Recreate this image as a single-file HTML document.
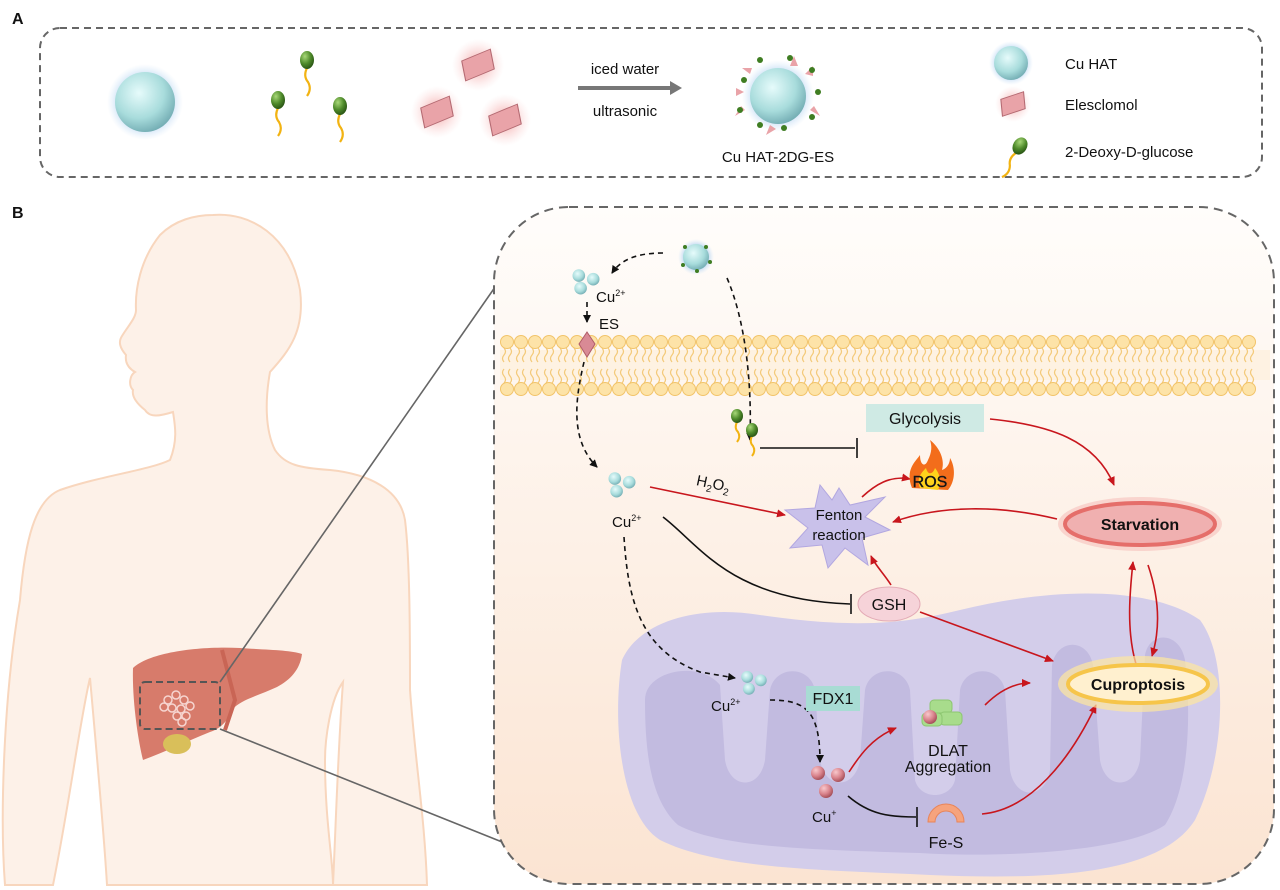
<!DOCTYPE html>
<html><head><meta charset="utf-8">
<style>
html,body{margin:0;padding:0;background:#fff;width:1280px;height:890px;overflow:hidden}
svg{display:block}
text{font-family:"Liberation Sans",Arial,sans-serif;fill:#111}
</style></head><body>
<svg width="1280" height="890" viewBox="0 0 1280 890" xmlns="http://www.w3.org/2000/svg">
<defs>
<radialGradient id="sph" cx="0.4" cy="0.35" r="0.7"><stop offset="0" stop-color="#e6fbfb"/><stop offset="0.6" stop-color="#a8dcdc"/><stop offset="1" stop-color="#6fa9b0"/></radialGradient>
<radialGradient id="glowB" cx="0.5" cy="0.5" r="0.5"><stop offset="0.6" stop-color="#a9cdf0" stop-opacity="0.9"/><stop offset="1" stop-color="#cfe3f7" stop-opacity="0"/></radialGradient>
<radialGradient id="grn" cx="0.35" cy="0.3" r="0.7"><stop offset="0" stop-color="#a8d878"/><stop offset="0.6" stop-color="#4e8a2a"/><stop offset="1" stop-color="#2d5a17"/></radialGradient>
<radialGradient id="pnk" cx="0.35" cy="0.3" r="0.7"><stop offset="0" stop-color="#f8c8cc"/><stop offset="0.6" stop-color="#d9838c"/><stop offset="1" stop-color="#a8525c"/></radialGradient>
<radialGradient id="pglow" cx="0.5" cy="0.5" r="0.5"><stop offset="0.3" stop-color="#f6b8b8" stop-opacity="0.8"/><stop offset="1" stop-color="#fbdada" stop-opacity="0"/></radialGradient>
<linearGradient id="cellbg" x1="0" y1="0" x2="0" y2="1"><stop offset="0" stop-color="#fffdfb"/><stop offset="1" stop-color="#fbe4d2"/></linearGradient>
<marker id="ab" markerWidth="8" markerHeight="8" refX="7" refY="4" orient="auto" markerUnits="userSpaceOnUse"><path d="M0,0 L8,4 L0,8 z" fill="#111"/></marker>
<marker id="ar" markerWidth="9" markerHeight="8" refX="8" refY="4" orient="auto" markerUnits="userSpaceOnUse"><path d="M0,0 L9,4 L0,8 z" fill="#c8161d"/></marker>
<g id="glu"><path d="M0,6 q-3,6 1,10 q3,5 -1,10" stroke="#f2b312" stroke-width="2" fill="none"/><ellipse cx="0" cy="0" rx="6" ry="7" fill="url(#grn)"/></g>
<g id="gluA"><path d="M0,8 q-4,8 1,14 q4,7 -1,14" stroke="#f2b312" stroke-width="2.2" fill="none"/><ellipse cx="0" cy="0" rx="7" ry="9" fill="url(#grn)"/></g>
<g id="dia"><rect x="-11" y="-9" width="22" height="18" fill="#e9a3a8" stroke="#b46a72" transform="skewX(-15) rotate(-20)"/></g>
<g id="diaA"><rect x="-14" y="-11" width="28" height="22" fill="#e9a3a8" stroke="#b46a72" transform="skewX(-15) rotate(-25)"/></g>
<g id="cuc"><circle cx="-8" cy="-6" r="7" fill="url(#sph)"/><circle cx="8" cy="-2" r="7" fill="url(#sph)"/><circle cx="-6" cy="8" r="7" fill="url(#sph)"/></g>
</defs>

<!-- Panel A -->
<text x="12" y="24" font-size="16" font-weight="bold">A</text>
<rect x="40" y="28" width="1222" height="149" rx="20" fill="none" stroke="#666" stroke-width="2" stroke-dasharray="7,5"/>
<circle cx="145" cy="102" r="38" fill="url(#glowB)"/>
<circle cx="145" cy="102" r="30" fill="url(#sph)"/>
<use href="#gluA" x="307" y="60"/><use href="#gluA" x="278" y="100"/><use href="#gluA" x="340" y="106"/>
<circle cx="478" cy="65" r="26" fill="url(#pglow)"/><use href="#diaA" x="478" y="65"/>
<circle cx="437" cy="112" r="26" fill="url(#pglow)"/><use href="#diaA" x="437" y="112"/>
<circle cx="505" cy="120" r="26" fill="url(#pglow)"/><use href="#diaA" x="505" y="120"/>
<text x="625" y="74" font-size="15" text-anchor="middle">iced water</text>
<line x1="578" y1="88" x2="672" y2="88" stroke="#777" stroke-width="4"/><path d="M670,81 L682,88 L670,95z" fill="#777"/>
<text x="625" y="116" font-size="15" text-anchor="middle">ultrasonic</text>
<circle cx="778" cy="96" r="36" fill="url(#glowB)"/>
<g fill="#e9a3a8"><path d="M750,74 l-8,-6 l10,0z"/><path d="M805,74 l8,-8 l0,10z"/><path d="M745,110 l-10,6 l6,-10z"/><path d="M810,110 l10,6 l-6,-10z"/><path d="M770,125 l-4,10 l10,-6z"/><path d="M790,66 l4,-10 l4,10z"/><path d="M744,92 l-8,-4 l0,8z"/></g>
<circle cx="778" cy="96" r="28" fill="url(#sph)"/>
<g fill="#3f7d22"><circle cx="790" cy="58" r="3"/><circle cx="812" cy="70" r="3"/><circle cx="818" cy="92" r="3"/><circle cx="812" cy="117" r="3"/><circle cx="784" cy="128" r="3"/><circle cx="760" cy="125" r="3"/><circle cx="740" cy="110" r="3"/><circle cx="744" cy="80" r="3"/><circle cx="760" cy="60" r="3"/></g>
<text x="778" y="162" font-size="15" text-anchor="middle">Cu HAT-2DG-ES</text>
<circle cx="1011" cy="63" r="22" fill="url(#glowB)"/><circle cx="1011" cy="63" r="17" fill="url(#sph)"/>
<text x="1065" y="69" font-size="15">Cu HAT</text>
<circle cx="1013" cy="104" r="18" fill="url(#pglow)"/><use href="#dia" x="1013" y="104"/>
<text x="1065" y="110" font-size="15">Elesclomol</text>
<g transform="translate(1020 146) rotate(30)"><use href="#gluA"/></g>
<text x="1065" y="157" font-size="15">2-Deoxy-D-glucose</text>

<!-- Panel B -->
<text x="12" y="218" font-size="16" font-weight="bold">B</text>
<path d="M213,215 C250,212 290,235 300,290 C305,330 290,350 270,372 C265,400 265,430 275,450 C285,465 300,468 330,470 C370,474 400,490 405,520 C410,560 410,640 410,690 C415,760 425,820 427,885 L333,885 C336,820 338,750 343,682 C330,700 325,740 325,760 C325,820 333,860 333,885 L107,885 C105,850 100,790 90,678 C80,720 70,800 53,885 L5,885 C0,820 3,700 20,600 C25,540 35,500 60,490 C100,476 150,470 170,460 C178,440 175,425 173,412 C160,416 150,418 145,410 C135,402 132,395 133,390 C128,385 130,375 135,372 C128,368 125,362 126,355 C120,348 118,342 122,336 C128,326 136,318 136,310 C135,290 140,260 160,235 C175,220 195,215 213,215 Z" fill="#fdf1e8" stroke="#f8d6bd" stroke-width="2"/>
<path d="M133,668 C150,652 200,646 240,648 C270,650 290,650 302,654 C300,670 290,680 277,687 C260,695 240,700 233,709 C228,720 222,728 210,732 C185,742 165,752 143,760 C138,740 132,700 133,668 Z" fill="#d77b6b"/>
<path d="M222,650 L235,700 L225,730" stroke="#c96555" stroke-width="4" fill="none"/>
<ellipse cx="177" cy="744" rx="14" ry="10" fill="#d9bf5a"/>
<g fill="none" stroke="#f6d5d0" stroke-width="1.5"><circle cx="168" cy="700" r="4"/><circle cx="176" cy="695" r="4"/><circle cx="184" cy="700" r="4"/><circle cx="172" cy="708" r="4"/><circle cx="181" cy="709" r="4"/><circle cx="190" cy="706" r="4"/><circle cx="164" cy="707" r="4"/><circle cx="177" cy="716" r="4"/><circle cx="186" cy="716" r="4"/><circle cx="182" cy="722" r="4"/></g>
<rect x="140" y="682" width="80" height="47" rx="5" fill="none" stroke="#555" stroke-width="2" stroke-dasharray="7,4"/>
<line x1="220" y1="682" x2="500" y2="280" stroke="#666" stroke-width="1.6"/>
<line x1="220" y1="729" x2="522" y2="850" stroke="#666" stroke-width="1.6"/>

<rect x="494" y="207" width="780" height="677" rx="75" fill="url(#cellbg)" stroke="#666" stroke-width="2" stroke-dasharray="9,6"/>
<rect x="500" y="350" width="770" height="30" fill="#fdf0dc" opacity="0.7"/>
<g stroke="#f3c978" stroke-width="1.2" fill="none" id="tails"></g>
<g id="heads"></g>

<!-- mitochondrion -->
<path d="M622,660 C640,620 700,605 760,615 C850,628 900,625 960,610 C1050,588 1150,585 1200,620 C1230,660 1225,760 1195,820 C1160,875 1050,880 930,875 C830,870 720,870 660,840 C620,815 612,720 622,660 Z" fill="#d3cdea"/>
<g fill="#c2bbe0">
<path d="M645,700 C645,670 700,660 720,685 L725,760 C730,790 760,790 765,760 L770,690 C775,665 810,665 815,690 L820,760 C825,790 855,790 860,760 L865,690 C870,665 905,665 910,690 L915,780 C920,800 950,800 955,780 L960,690 C965,665 1000,665 1005,690 L1010,770 C1015,800 1045,800 1050,770 L1052,665 C1057,638 1088,638 1093,665 L1100,760 C1105,790 1135,790 1140,760 L1145,655 C1150,630 1180,632 1185,660 C1192,720 1188,790 1165,825 C1125,852 1000,858 920,853 C820,850 720,848 678,825 C650,800 645,750 645,700 Z"/>
</g>

<g fill="none" stroke="#111" stroke-width="1.6" stroke-dasharray="5,4">
<path d="M663,253 C640,253 622,258 612,273" marker-end="url(#ab)"/>
<path d="M727,278 C745,320 752,380 750,440" marker-end="url(#ab)"/>
<path d="M587,302 L587,322" marker-end="url(#ab)"/>
<path d="M584,362 C575,400 570,440 597,467" marker-end="url(#ab)"/>
<path d="M624,537 C628,600 640,650 700,672 L735,678" marker-end="url(#ab)"/>
<path d="M770,700 C805,700 820,710 820,762" marker-end="url(#ab)"/>
</g>
<g fill="none" stroke="#111" stroke-width="1.6">
<path d="M760,448 L855,448"/><path d="M857,438 L857,458"/>
<path d="M663,517 C700,545 730,600 850,604"/><path d="M851,594 L851,614"/>
<path d="M848,796 C870,815 890,817 916,817"/><path d="M917,807 L917,827"/>
</g>
<g fill="none" stroke="#c8161d" stroke-width="1.6">
<path d="M990,419 C1050,425 1095,440 1114,485" marker-end="url(#ar)"/>
<path d="M1057,519 C1000,505 940,505 893,522" marker-end="url(#ar)"/>
<path d="M862,497 C875,485 890,475 910,479" marker-end="url(#ar)"/>
<path d="M650,487 L785,515" marker-end="url(#ar)"/>
<path d="M891,585 C885,575 875,565 871,556" marker-end="url(#ar)"/>
<path d="M920,612 L1053,661" marker-end="url(#ar)"/>
<path d="M1136,664 C1126,630 1130,590 1133,562" marker-end="url(#ar)"/>
<path d="M1148,565 C1160,600 1160,630 1152,656" marker-end="url(#ar)"/>
<path d="M849,772 C860,755 872,738 896,728" marker-end="url(#ar)"/>
<path d="M985,705 C995,695 1010,683 1030,683" marker-end="url(#ar)"/>
<path d="M982,814 C1030,810 1070,760 1096,705" marker-end="url(#ar)"/>
</g>

<circle cx="696" cy="257" r="18" fill="url(#glowB)"/>
<circle cx="696" cy="257" r="13" fill="url(#sph)"/>
<g fill="#3f7d22"><circle cx="685" cy="247" r="2"/><circle cx="706" cy="247" r="2"/><circle cx="710" cy="262" r="2"/><circle cx="697" cy="271" r="2"/><circle cx="683" cy="265" r="2"/></g>
<use href="#cuc" x="586" y="281" transform="translate(586 281) scale(0.9) translate(-586 -281)"/>
<text x="596" y="302" font-size="15">Cu<tspan font-size="9" dy="-6">2+</tspan></text>
<text x="599" y="329" font-size="15">ES</text>
<path d="M587,332 L595,344 L587,357 L579,344 Z" fill="#d98a95" stroke="#b05c68"/>
<use href="#glu" x="737" y="416"/><use href="#glu" x="752" y="430"/>
<rect x="866" y="404" width="118" height="28" fill="#cfeae4"/>
<text x="925" y="424" font-size="16" text-anchor="middle">Glycolysis</text>
<use href="#cuc" x="622" y="484" transform="translate(622 484) scale(0.9) translate(-622 -484)"/>
<text x="612" y="527" font-size="15">Cu<tspan font-size="9" dy="-6">2+</tspan></text>
<text x="696" y="488" font-size="15" transform="rotate(12 710 485)">H<tspan font-size="10" dy="4">2</tspan><tspan dy="-4">O</tspan><tspan font-size="10" dy="4">2</tspan></text>
<path d="M839,488 L850,505 L885,497 L865,517 L890,530 L862,538 L868,565 L845,548 L828,568 L822,545 L790,548 L808,528 L785,510 L815,508 L820,485 L832,500 Z" fill="#c9c1ea" stroke="#b2a7e0"/>
<text x="839" y="520" font-size="15" text-anchor="middle">Fenton</text>
<text x="839" y="540" font-size="15" text-anchor="middle">reaction</text>
<path d="M912,488 C905,470 915,462 920,455 C920,465 925,468 928,460 C932,452 932,446 930,440 C940,448 945,460 942,470 C948,468 950,462 950,458 C956,468 955,482 948,490 Z" fill="#f36d1b"/>
<path d="M920,488 C916,478 922,472 926,468 C928,476 933,474 935,468 C940,474 942,482 938,490 Z" fill="#ffd21c"/>
<text x="930" y="487" font-size="16" text-anchor="middle" stroke="#222" stroke-width="0.4">ROS</text>
<ellipse cx="1140" cy="524" rx="82" ry="27" fill="#f7c7c2" opacity="0.7"/>
<ellipse cx="1140" cy="524" rx="75" ry="21" fill="#f0b0b0" stroke="#e56e6a" stroke-width="4"/>
<text x="1140" y="530" font-size="16" font-weight="bold" text-anchor="middle">Starvation</text>
<ellipse cx="889" cy="604" rx="31" ry="17" fill="#f6d3d9" stroke="#e3aab5"/>
<text x="889" y="610" font-size="16" text-anchor="middle">GSH</text>
<ellipse cx="1138" cy="684" rx="80" ry="28" fill="#fde7a0" opacity="0.7"/>
<ellipse cx="1138" cy="684" rx="70" ry="19" fill="#fff0cf" stroke="#f6c54a" stroke-width="4"/>
<text x="1138" y="690" font-size="16" font-weight="bold" text-anchor="middle">Cuproptosis</text>
<use href="#cuc" x="754" y="682" transform="translate(754 682) scale(0.85) translate(-754 -682)"/>
<text x="711" y="711" font-size="15">Cu<tspan font-size="9" dy="-6">2+</tspan></text>
<rect x="806" y="686" width="54" height="25" fill="#a8dcd4"/>
<text x="833" y="704" font-size="16" text-anchor="middle">FDX1</text>
<g fill="#a8dc8c" stroke="#8cc670"><rect x="930" y="700" width="22" height="13" rx="4"/><rect x="940" y="712" width="22" height="13" rx="4"/><rect x="922" y="713" width="20" height="13" rx="4"/></g>
<circle cx="930" cy="717" r="7" fill="url(#pnk)"/>
<text x="948" y="756" font-size="16" text-anchor="middle">DLAT</text>
<text x="948" y="772" font-size="16" text-anchor="middle">Aggregation</text>
<circle cx="818" cy="773" r="7" fill="url(#pnk)"/><circle cx="838" cy="775" r="7" fill="url(#pnk)"/><circle cx="826" cy="791" r="7" fill="url(#pnk)"/>
<text x="812" y="822" font-size="15">Cu<tspan font-size="9" dy="-6">+</tspan></text>
<path d="M928,822 A18,18 0 0 1 964,822 L957,822 A11,11 0 0 0 935,822 Z" fill="#f6a37d" stroke="#e8855a"/>
<text x="946" y="848" font-size="16" text-anchor="middle">Fe-S</text>
</svg>
<script>
(function(){var ns="http://www.w3.org/2000/svg",h=document.getElementById("heads"),t=document.getElementById("tails");
for(var x=507;x<=1262;x+=14){
 [[342,1],[389,-1]].forEach(function(r){
  for(var k=-3;k<=3;k+=6){var p=document.createElementNS(ns,"path");var y0=r[0]+r[1]*6;
   p.setAttribute("d","M"+(x+k)+","+y0+" q3,"+(r[1]*3.5)+" 0,"+(r[1]*7)+" q-3,"+(r[1]*3.5)+" 0,"+(r[1]*7));t.appendChild(p);}
  var c=document.createElementNS(ns,"circle");c.setAttribute("cx",x);c.setAttribute("cy",r[0]);c.setAttribute("r",6.5);
  c.setAttribute("fill","#fde3a8");c.setAttribute("stroke","#f2c46a");h.appendChild(c);});
}})();
</script>
</body></html>
